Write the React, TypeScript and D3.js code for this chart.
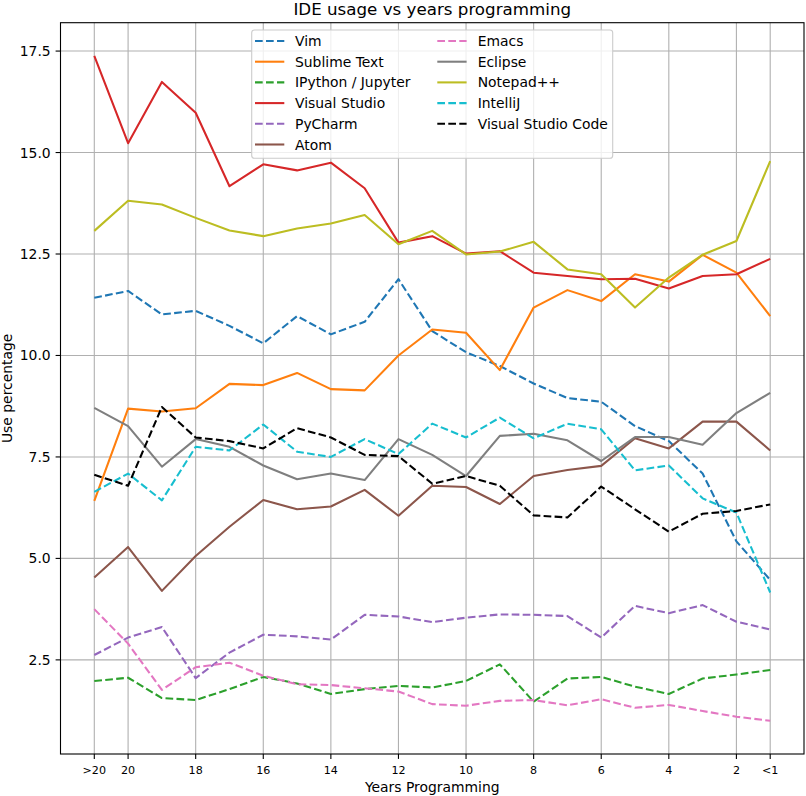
import React from "react";
import * as d3 from "d3";

const categories = [">20", "20", "19", "18", "17", "16", "15", "14", "13", "12", "11", "10", "9", "8", "7", "6", "5", "4", "3", "2", "<1"];
const tickLabels = [">20", "20", "18", "16", "14", "12", "10", "8", "6", "4", "2", "<1"];
const yTicks = [2.5, 5.0, 7.5, 10.0, 12.5, 15.0, 17.5];

const vim = [11.42, 11.59, 11.01, 11.10, 10.73, 10.30, 10.97, 10.52, 10.83, 11.88, 10.60, 10.08, 9.74, 9.31, 8.95, 8.86, 8.26, 7.89, 7.09, 5.42, 4.47];
const sublime = [6.42, 8.69, 8.62, 8.70, 9.30, 9.27, 9.57, 9.17, 9.14, 10.0, 10.64, 10.56, 9.64, 11.18, 11.61, 11.34, 12.0, 11.82, 12.48, 12.04, 10.97];
const ipython = [1.98, 2.06, 1.56, 1.51, 1.78, 2.08, 1.92, 1.66, 1.78, 1.86, 1.82, 1.98, 2.39, 1.47, 2.04, 2.08, 1.84, 1.66, 2.04, 2.14, 2.25];
const visualStudio = [17.38, 15.23, 16.74, 15.98, 14.17, 14.71, 14.56, 14.75, 14.12, 12.78, 12.94, 12.51, 12.57, 12.04, 11.96, 11.88, 11.89, 11.65, 11.96, 12.0, 12.38];
const pycharm = [2.62, 3.05, 3.31, 2.05, 2.68, 3.12, 3.08, 3.0, 3.61, 3.57, 3.43, 3.54, 3.62, 3.61, 3.58, 3.05, 3.83, 3.65, 3.85, 3.44, 3.25];
const atom = [4.53, 5.28, 4.20, 5.06, 5.78, 6.44, 6.21, 6.28, 6.69, 6.05, 6.79, 6.76, 6.34, 7.03, 7.18, 7.28, 7.96, 7.71, 8.37, 8.37, 7.66];
const emacs = [3.75, 2.90, 1.76, 2.32, 2.43, 2.11, 1.90, 1.88, 1.80, 1.72, 1.41, 1.37, 1.49, 1.51, 1.38, 1.53, 1.32, 1.39, 1.24, 1.10, 1.00];
const eclipse = [8.71, 8.26, 7.26, 7.94, 7.75, 7.29, 6.95, 7.09, 6.93, 7.94, 7.55, 7.03, 8.02, 8.07, 7.91, 7.40, 7.99, 7.99, 7.80, 8.58, 9.08];
const notepad = [13.07, 13.81, 13.72, 13.39, 13.08, 12.94, 13.13, 13.25, 13.46, 12.74, 13.07, 12.49, 12.56, 12.80, 12.12, 12.0, 11.18, 11.92, 12.48, 12.82, 14.79];
const intellij = [6.64, 7.09, 6.43, 7.75, 7.66, 8.30, 7.63, 7.50, 7.94, 7.57, 8.32, 7.98, 8.47, 7.96, 8.32, 8.18, 7.17, 7.29, 6.48, 6.13, 4.16];
const vscode = [7.06, 6.79, 8.73, 7.98, 7.89, 7.71, 8.21, 7.98, 7.55, 7.52, 6.84, 7.03, 6.79, 6.06, 6.01, 6.77, 6.21, 5.66, 6.10, 6.17, 6.33];

const seriesNames = ["Vim", "Sublime Text", "IPython / Jupyter", "Visual Studio", "PyCharm", "Atom", "Emacs", "Eclipse", "Notepad++", "IntelliJ", "Visual Studio Code"];
const seriesValues = [vim, sublime, ipython, visualStudio, pycharm, atom, emacs, eclipse, notepad, intellij, vscode];
const seriesColors = ["#1f77b4", "#ff7f0e", "#2ca02c", "#d62728", "#9467bd", "#8c564b", "#e377c2", "#7f7f7f", "#bcbd22", "#17becf", "#000000"];
const seriesDashed = [true, false, true, false, true, false, true, false, false, true, true];

const W = 806;
const H = 796;
const L = 60.5, R = 804, T = 22.7, B = 754;
const FONT = "'DejaVu Sans', sans-serif";

export default function App() {
  const n = categories.length;
  const x = d3.scaleLinear().domain([-1, n]).range([L, R]);
  const all = seriesValues.flat();
  const [mn, mx] = d3.extent(all) as [number, number];
  const pad = (mx - mn) * 0.05;
  const y = d3.scaleLinear().domain([mn - pad, mx + pad]).range([B, T]);
  const line = d3.line<number>().x((_, i) => x(i)).y((v) => y(v));

  const tickIdx = tickLabels.map((lab) => categories.indexOf(lab));
  const dash = "7.7,3.3";
  const lw = 2.08;

  const legX = 251.7, legY = 30, legW = 361, legH = 128.3;
  const rowH = 20.7;
  const row0 = 41;
  const colHandle = [255, 437.3];
  const colText = [295, 477.7];

  return (
    <svg width={W} height={H} style={{ position: "absolute", left: 0, top: 0, display: "block" }} fontFamily={FONT}>
      <rect x={0} y={0} width={W} height={H} fill="#fff" />
      <text x={(L + R) / 2} y={15} textAnchor="middle" fontSize={16.7} fill="#000">IDE usage vs years programming</text>
      {tickIdx.map((i) => (
        <line key={"gx" + i} x1={x(i)} x2={x(i)} y1={T} y2={B} stroke="#b0b0b0" strokeWidth={1.1} />
      ))}
      {yTicks.map((t) => (
        <line key={"gy" + t} x1={L} x2={R} y1={y(t)} y2={y(t)} stroke="#b0b0b0" strokeWidth={1.1} />
      ))}
      <defs>
        <clipPath id="clip"><rect x={L} y={T} width={R - L} height={B - T} /></clipPath>
      </defs>
      <g clipPath="url(#clip)">
        {seriesValues.map((vals, k) => (
          <path key={seriesNames[k]} d={line(vals) || ""} fill="none" stroke={seriesColors[k]} strokeWidth={lw}
            strokeDasharray={seriesDashed[k] ? dash : undefined} strokeLinejoin="round" />
        ))}
      </g>
      <rect x={L} y={T} width={R - L} height={B - T} fill="none" stroke="#000" strokeWidth={1.1} />
      {tickIdx.map((i, k) => (
        <g key={"xt" + i}>
          <line x1={x(i)} x2={x(i)} y1={B} y2={B + 4.9} stroke="#000" strokeWidth={1.1} />
          <text x={x(i)} y={773.5} textAnchor="middle" fontSize={11.1} fill="#000">{tickLabels[k]}</text>
        </g>
      ))}
      {yTicks.map((t) => (
        <g key={"yt" + t}>
          <line x1={L - 4.9} x2={L} y1={y(t)} y2={y(t)} stroke="#000" strokeWidth={1.1} />
          <text x={L - 9.8} y={y(t) + 5} textAnchor="end" fontSize={13.9} fill="#000">{t.toFixed(1)}</text>
        </g>
      ))}
      <text x={(L + R) / 2} y={792} textAnchor="middle" fontSize={13.9} fill="#000">Years Programming</text>
      <text transform={`translate(11.5, ${(T + B) / 2}) rotate(-90)`} textAnchor="middle" fontSize={13.9} fill="#000">Use percentage</text>
      <rect x={legX} y={legY} width={legW} height={legH} rx={2.8} ry={2.8} fill="#fff" fillOpacity={0.8} stroke="#cccccc" strokeWidth={1.1} />
      {seriesNames.map((name, k) => {
        const col = k < 6 ? 0 : 1;
        const row = k < 6 ? k : k - 6;
        const cy = row0 + row * rowH;
        return (
          <g key={"lg" + name}>
            <line x1={colHandle[col]} x2={colHandle[col] + 29.3} y1={cy} y2={cy} stroke={seriesColors[k]} strokeWidth={lw}
              strokeDasharray={seriesDashed[k] ? dash : undefined} />
            <text x={colText[col]} y={cy + 5} fontSize={13.9} fill="#000">{name}</text>
          </g>
        );
      })}
    </svg>
  );
}
